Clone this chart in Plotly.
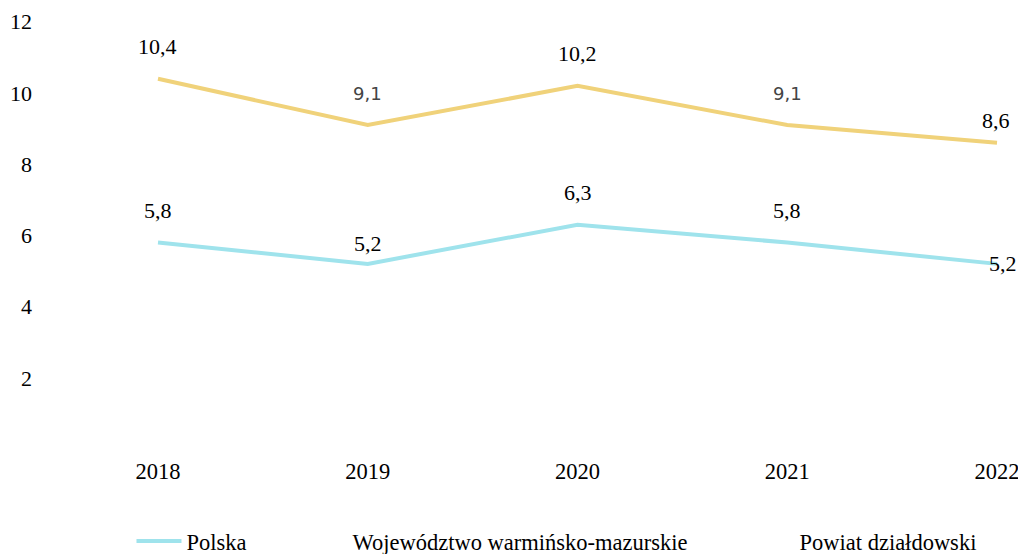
import plotly.graph_objects as go

years = [2018, 2019, 2020, 2021, 2022]
polska = [5.8, 5.2, 6.3, 5.8, 5.2]
powiat = [10.4, 9.1, 10.2, 9.1, 8.6]
wojewodztwo_name = 'Województwo warmińsko-mazurskie'
y_ticks = [2, 4, 6, 8, 10, 12]

SERIF = 'Liberation Serif, Times New Roman, serif'
SANS = 'DejaVu Sans, Verdana, sans-serif'


def fmt(v):
    return f'{v:.1f}'.replace('.', ',')


fig = go.Figure()

fig.add_trace(go.Scatter(x=years, y=polska, mode='lines', name='Polska',
                         line=dict(color='#9FE3EC', width=4), legend='legend'))
# series without a visible line in the picture
fig.add_trace(go.Scatter(x=[None], y=[None], mode='lines', name=wojewodztwo_name,
                         line=dict(color='rgba(0,0,0,0)', width=4), legend='legend2'))
fig.add_trace(go.Scatter(x=years, y=powiat, mode='lines', name='Powiat działdowski',
                         line=dict(color='#F0D27A', width=4), showlegend=False))
fig.add_trace(go.Scatter(x=[None], y=[None], mode='lines', name='Powiat działdowski',
                         line=dict(color='rgba(0,0,0,0)', width=4), legend='legend3'))

# data labels
for series in (powiat, polska):
    for i, (x, v) in enumerate(zip(years, series)):
        last = i == len(years) - 1
        sans = series is powiat and x in (2019, 2021)
        if last:
            xshift, shift = (-17, 22) if series is powiat else (-10, 0)
        elif series is polska and x == 2019:
            xshift, shift = 0, 20
        else:
            xshift, shift = 0, 32
        fig.add_annotation(
            x=x, y=v, text=fmt(v), showarrow=False,
            xanchor='left' if last else 'center',
            xshift=xshift, yshift=shift,
            font=dict(family=SANS if sans else SERIF,
                      size=18 if sans else 22,
                      color='#444444' if sans else '#000000'),
        )

legend_style = dict(orientation='h', y=-0.131, yanchor='top', xanchor='left',
                    itemwidth=45, font=dict(family=SERIF, size=22.5),
                    bgcolor='rgba(0,0,0,0)')

fig.update_layout(
    width=1018, height=554,
    margin=dict(l=45, r=10, t=2, b=94, autoexpand=False),
    paper_bgcolor='white', plot_bgcolor='white',
    font=dict(family=SERIF, size=22, color='#000000'),
    showlegend=True,
    legend=dict(x=0.0898, **legend_style),
    legend2=dict(x=0.2622, **legend_style),
    legend3=dict(x=0.7264, **legend_style),
)
fig.update_xaxes(range=[2017.4613, 2022.0524], tickvals=years, showgrid=False,
                 zeroline=False, showline=False, ticks='', automargin=False,
                 ticklabeloverflow='allow', tickfont=dict(size=22.5),
                 ticklabelstandoff=-5)
fig.update_yaxes(range=[-0.309, 12.556], tickvals=y_ticks, showgrid=False,
                 zeroline=False, showline=False, ticks='', automargin=False,
                 ticklabelstandoff=12)

fig.write_html('out.html', config={'displayModeBar': False},
               post_script="document.body.style.margin='0';"
                           "document.body.style.overflow='hidden';")
